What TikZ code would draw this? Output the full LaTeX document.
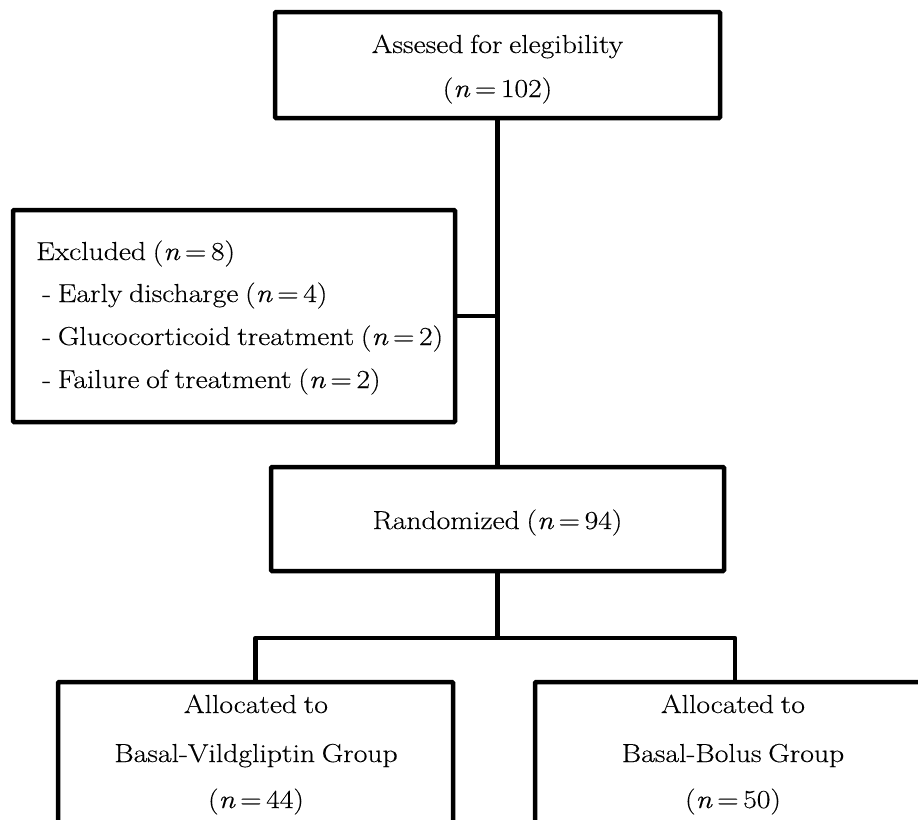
\documentclass[tikz,border=0pt]{standalone}
\usepackage{fontspec}
\setmainfont{Latin Modern Roman}[FakeStretch=1.14, WordSpace=0.75, FakeBold=0.35]
\newcommand{\myeq}{\hspace{0.18em}=\hspace{0.18em}}
\begin{document}
\begin{tikzpicture}[x=1pt,y=-1pt,
  box/.style={draw, line width=4.5pt, rounded corners=1pt, inner sep=0pt},
  lbl/.style={anchor=base, inner sep=0pt, font=\fontsize{26}{30}\selectfont},
  lbll/.style={anchor=base west, inner sep=0pt, font=\fontsize{26}{30}\selectfont},
  conn/.style={line width=4.5pt}]
\useasboundingbox (0,0) rectangle (918,819);
\clip (0,0) rectangle (918,819);
% boxes
\node[box, minimum width=445pt, minimum height=106pt] (assess) at (497.5,65) {};
\node[box, minimum width=442pt, minimum height=212pt] (excl) at (234,316) {};
\node[box, minimum width=453pt, minimum height=104pt] (rand) at (497.5,519) {};
\node[box, minimum width=395pt, minimum height=200pt] (vild) at (255.5,782) {};
\node[box, minimum width=400pt, minimum height=200pt] (bolus) at (735,782) {};
% texts
\node[lbl] (t1) at (497.5,53) {Assesed for elegibility};
\node[lbl] (t2) at (497.5,97) {(\textit{n}\myeq 102)};
\node[lbll] (e1) at (36,260) {Excluded (\textit{n}\myeq 8)};
\node[lbll] (e2) at (42,302) {- Early discharge (\textit{n}\myeq 4)};
\node[lbll] (e3) at (42,345) {- Glucocorticoid treatment (\textit{n}\myeq 2)};
\node[lbll] (e4) at (42,388) {- Failure of treatment (\textit{n}\myeq 2)};
\node[lbl] (r1) at (497.5,529) {Randomized (\textit{n}\myeq 94)};
\node[lbl] (v1) at (256,713) {Allocated to};
\node[lbl] (v2) at (256,762) {Basal-Vildgliptin Group};
\node[lbl] (v3) at (256,808) {(\textit{n}\myeq 44)};
\node[lbl] (b1) at (733,713) {Allocated to};
\node[lbl] (b2) at (733,762) {Basal-Bolus Group};
\node[lbl] (b3) at (733,808) {(\textit{n}\myeq 50)};
% connectors
\coordinate (j1) at (497.5,316);
\coordinate (br) at (497.5,638);
\draw[conn] (assess.south) -- (rand.north);
\draw[conn] (excl.east) -- (j1);
\draw[conn] (rand.south) -- (br);
\draw[conn, line join=round] (vild.north) |- (br) -| (bolus.north);
\end{tikzpicture}
\end{document}
